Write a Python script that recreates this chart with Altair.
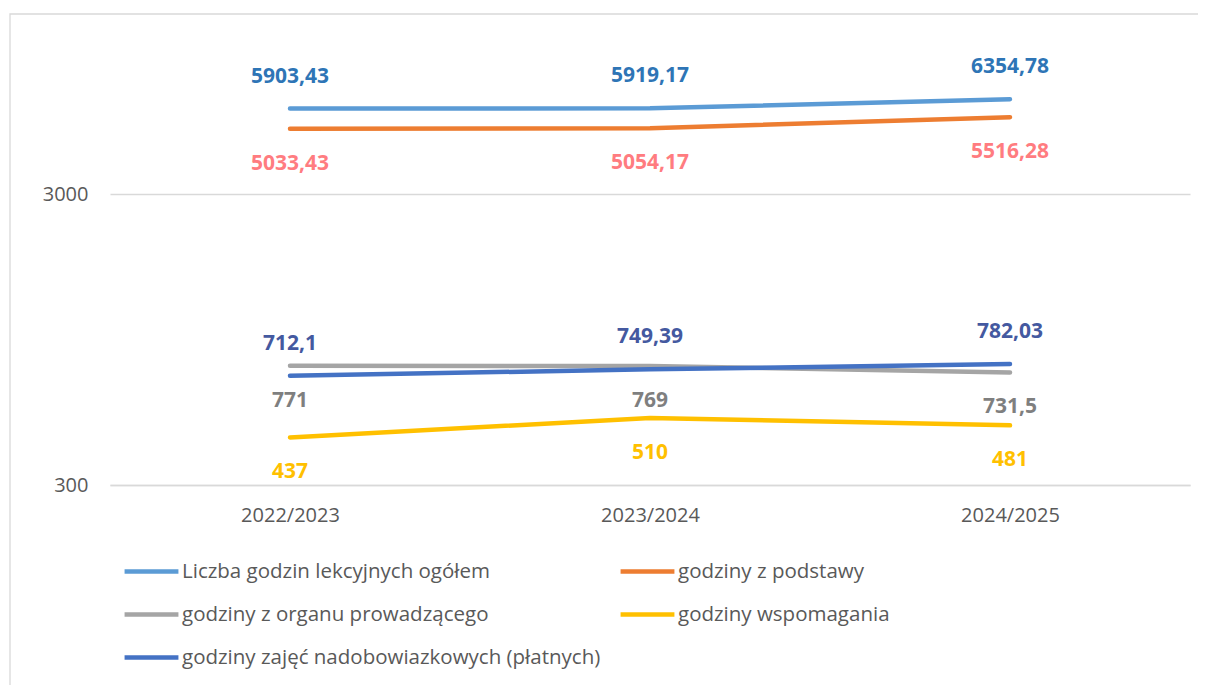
import altair as alt
import pandas as pd

years = ["2022/2023", "2023/2024", "2024/2025"]
series = [
    "Liczba godzin lekcyjnych ogółem",
    "godziny z podstawy",
    "godziny z organu prowadzącego",
    "godziny wspomagania",
    "godziny zajęć nadobowiazkowych (płatnych)",
]
ogolem = [5903.43, 5919.17, 6354.78]
podstawa = [5033.43, 5054.17, 5516.28]
organ = [771, 769, 731.5]
wspomaganie = [437, 510, 481]
nadobowiazkowe = [712.1, 749.39, 782.03]
label_texts = [
    ["5903,43", "5919,17", "6354,78"],
    ["5033,43", "5054,17", "5516,28"],
    ["771", "769", "731,5"],
    ["437", "510", "481"],
    ["712,1", "749,39", "782,03"],
]
line_colors = ["#5B9BD5", "#ED7D31", "#A5A5A5", "#FFC000", "#4472C4"]
label_colors = ["#2E75B6", "#FF7C80", "#7F7F7F", "#FFC000", "#4459A0"]
label_above = [True, False, False, False, True]

values = [ogolem, podstawa, organ, wspomaganie, nadobowiazkowe]
rows = []
for i, s in enumerate(series):
    for j, y in enumerate(years):
        rows.append({
            "rok": y, "seria": s, "wartosc": values[i][j],
            "etykieta": label_texts[i][j], "kolor": label_colors[i],
            "nad": label_above[i],
        })
df = pd.DataFrame(rows)

FONT = "Open Sans"
W, H = 1080, 443

x = alt.X("rok:N", sort=years, scale=alt.Scale(paddingOuter=0.5, paddingInner=0),
          axis=alt.Axis(title=None, labelAngle=0, ticks=False, domain=True,
                        domainColor="#D9D9D9", domainWidth=1.3, grid=False,
                        labelPadding=20, labelFontSize=20, labelColor="#595959",
                        labelFont=FONT))
y = alt.Y("wartosc:Q", scale=alt.Scale(type="log", domain=[300, 10000]),
          axis=alt.Axis(title=None, values=[300, 3000], format="d", ticks=False,
                        domain=False, grid=True, gridColor="#D9D9D9", gridWidth=1.3,
                        labelPadding=22, labelFontSize=20, labelColor="#595959",
                        labelFont=FONT))

base = alt.Chart(df)

lines = base.mark_line(strokeWidth=4.5, strokeCap="round").encode(
    x=x, y=y,
    color=alt.Color("seria:N", sort=series,
                    scale=alt.Scale(domain=series, range=line_colors),
                    legend=alt.Legend(
                        title=None, orient="none", legendX=12, legendY=57 + H,
                        direction="horizontal", columns=2, gridAlign="none",
                        columnPadding=10, rowPadding=3,
                        symbolType="stroke", symbolSize=2900, symbolStrokeWidth=4.5,
                        labelFontSize=20.5, labelFont=FONT, labelColor="#595959",
                        labelLimit=600, labelOffset=1)),
)

above = base.transform_filter("datum.nad").mark_text(
    dy=-32, fontSize=21, fontWeight="bold", font=FONT
).encode(x=x, y=y, text="etykieta:N", color=alt.Color("kolor:N", scale=None))

below = base.transform_filter("!datum.nad").mark_text(
    dy=35, fontSize=21, fontWeight="bold", font=FONT
).encode(x=x, y=y, text="etykieta:N", color=alt.Color("kolor:N", scale=None))

frame = alt.Chart(pd.DataFrame({"a": [0]})).mark_rect(
    fillOpacity=0, stroke="#D9D9D9", strokeWidth=1.3
).encode(x=alt.value(-100), x2=alt.value(1200), y=alt.value(-28), y2=alt.value(900))

chart = alt.layer(frame, lines, above, below).properties(
    width=W, height=H,
    autosize=alt.AutoSizeParams(type="none"),
    padding={"left": 102, "top": 34, "right": 8, "bottom": 200},
).configure_view(stroke=None)

chart.save("out.html", embed_options={"renderer": "svg", "actions": False})
